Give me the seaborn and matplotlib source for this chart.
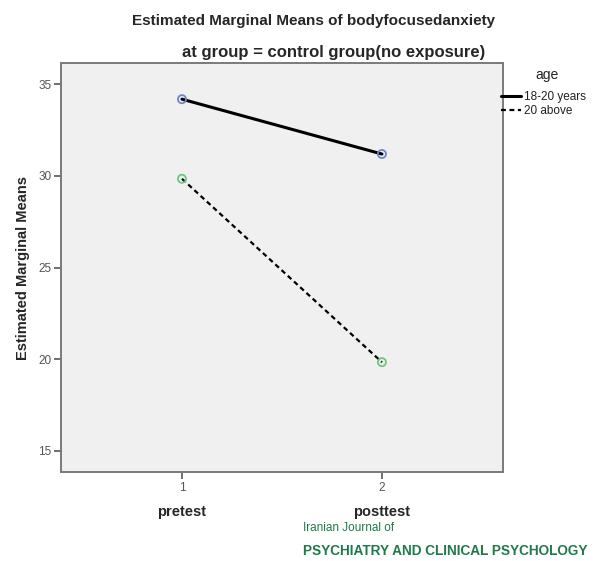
import matplotlib
matplotlib.use("Agg")
import matplotlib.pyplot as plt
from matplotlib.lines import Line2D
import seaborn as sns
import pandas as pd

# Estimated marginal means, control group
times = [1, 2]
time_labels = ["pretest", "posttest"]
age_groups = ["18-20 years", "20 above"]
means_18_20 = [34.18, 31.19]
means_20_above = [29.84, 19.84]
y_ticks = [15, 20, 25, 30, 35]

df = pd.DataFrame({
    "time": times * 2,
    "mean": means_18_20 + means_20_above,
    "age": [age_groups[0]] * 2 + [age_groups[1]] * 2,
})

sns.set_theme(style="white")
plt.rcParams["font.family"] = ["Liberation Sans", "DejaVu Sans"]

fig = plt.figure(figsize=(5.98, 5.61), dpi=100)
ax = fig.add_axes([0.102, 0.1586, 0.739, 0.729])
ax.set_facecolor("#f0f0f0")

sns.lineplot(data=df, x="time", y="mean", style="age",
             dashes={age_groups[0]: "", age_groups[1]: (2.2, 1.6)},
             color="black", linewidth=1.8, legend=False, ax=ax)
for line in ax.get_lines():
    if line.get_linestyle() == "-":
        line.set_linewidth(2.2)
    else:
        line.set_linewidth(1.6)

marker_colors = {age_groups[0]: "#6f86c9", age_groups[1]: "#6cc97c"}
for age, color in marker_colors.items():
    sub = df[df["age"] == age]
    sns.scatterplot(data=sub, x="time", y="mean", ax=ax, s=34,
                    facecolor="none", edgecolor=color, linewidth=1.3,
                    zorder=4, legend=False)

ax.set_xlim(0.395, 2.605)
ax.set_ylim(13.85, 36.15)
ax.set_xticks(times)
ax.set_xticklabels(["1", "2"])
ax.set_yticks(y_ticks)
ax.set_yticklabels([str(v) for v in y_ticks])
ax.tick_params(axis="both", which="both", length=5, width=1.2,
               color="#555555", labelsize=8.5, labelcolor="#555555",
               direction="out", bottom=True, left=True, pad=2)
for side in ax.spines.values():
    side.set_color("#7a7a7a")
    side.set_linewidth(1.4)

ax.set_xlabel("")
ax.set_ylabel("Estimated Marginal Means", fontsize=10.5,
              fontweight="bold", labelpad=6)

for t, lab in zip(times, time_labels):
    ax.annotate(lab, xy=(t, 0), xycoords=("data", "axes fraction"),
                xytext=(0, -28.5), textcoords="offset points",
                ha="center", va="center", fontsize=10.5, fontweight="bold")

fig.text(0.525, 0.963, "Estimated Marginal Means of bodyfocusedanxiety",
         ha="center", va="center", fontsize=11, fontweight="bold")
fig.text(0.5585, 0.907, "at group = control group(no exposure)",
         ha="center", va="center", fontsize=12, fontweight="bold")

fig.text(547 / 598, 1 - 75 / 561, "age", ha="center", va="center",
         fontsize=10, color="#222222")
handles = [
    Line2D([], [], color="black", linestyle="-", linewidth=2.2),
    Line2D([], [], color="black", linestyle=(0, (2.2, 1.6)), linewidth=1.6),
]
leg = fig.legend(handles, age_groups,
                 loc="upper left", bbox_to_anchor=(0.838, 1 - 91 / 561),
                 frameon=False, fontsize=8.5,
                 handlelength=1.7, handletextpad=0.2, labelspacing=0.2,
                 borderaxespad=0, borderpad=0)
for txt in leg.get_texts():
    txt.set_color("#222222")

fig.text(0.506, 1 - 528 / 561, "Iranian Journal of", ha="left",
         va="center", fontsize=8.5, color="#1f7a4a")
fig.text(0.506, 1 - 551 / 561, "PSYCHIATRY AND CLINICAL PSYCHOLOGY",
         ha="left", va="center", fontsize=9.8, color="#1f7a4a",
         fontweight="bold")

fig.savefig("out.png", dpi=100, facecolor="white")
